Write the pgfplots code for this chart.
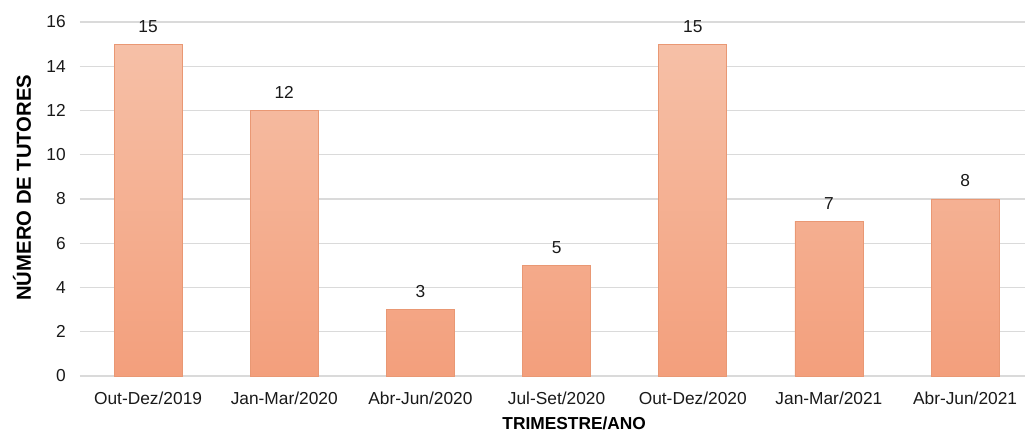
\documentclass[border=0pt]{standalone}
\usepackage{pgfplots}
\pgfplotsset{compat=1.18}
\usepackage{fontspec}
\setmainfont{Liberation Sans}

\definecolor{bartop}{HTML}{F6C0A7}
\definecolor{barbottom}{HTML}{F39F7C}
\definecolor{baredge}{HTML}{E99874}
\definecolor{gridgray}{HTML}{DADADA}

\begin{document}
\begin{tikzpicture}
\begin{axis}[
    at={(0,0)}, anchor=south west,
    scale only axis,
    width=708.75pt, height=265.5pt,
    xmin=-0.5, xmax=6.44,
    ymin=0, ymax=16,
    ytick={0,2,...,16},
    xtick={0,...,6},
    xticklabels={Out-Dez/2019,Jan-Mar/2020,Abr-Jun/2020,Jul-Set/2020,Out-Dez/2020,Jan-Mar/2021,Abr-Jun/2021},
    axis line style={draw=none},
    major tick length=0pt,
    ymajorgrids,
    grid style={gridgray, line width=0.8pt},
    /pgf/number format/assume math mode=true,
    tick label style={font=\fontsize{13}{15}\selectfont, text=black!90},
    xticklabel style={anchor=base, inner sep=0pt, yshift=-21.5pt},
    yticklabel style={anchor=east, inner sep=0pt, xshift=-10.5pt},
    xlabel={TRIMESTRE/ANO},
    ylabel={NÚMERO DE TUTORES},
    xlabel style={font=\bfseries\fontsize{13}{15}\selectfont, at={(axis description cs:0.523,-0.133)}, anchor=center},
    ylabel style={font=\bfseries\fontsize{15.2}{17}\selectfont, at={(axis description cs:-0.0614,0.532)}, anchor=center, rotate=0},
    ybar, bar width=51pt,
    nodes near coords,
    every node near coord/.append style={font=\fontsize{13}{15}\selectfont, text=black!90, anchor=base, inner sep=0pt, yshift=9pt},
    clip=false,
]
\addplot[draw=baredge, line width=0.6pt, top color=bartop, bottom color=barbottom]
    coordinates {(0,15) (1,12) (2,3) (3,5) (4,15) (5,7) (6,8)};
\end{axis}
\pgfresetboundingbox
\path[use as bounding box] (-60pt,-41.25pt) rectangle (708.75pt,282pt);
\end{tikzpicture}
\end{document}
